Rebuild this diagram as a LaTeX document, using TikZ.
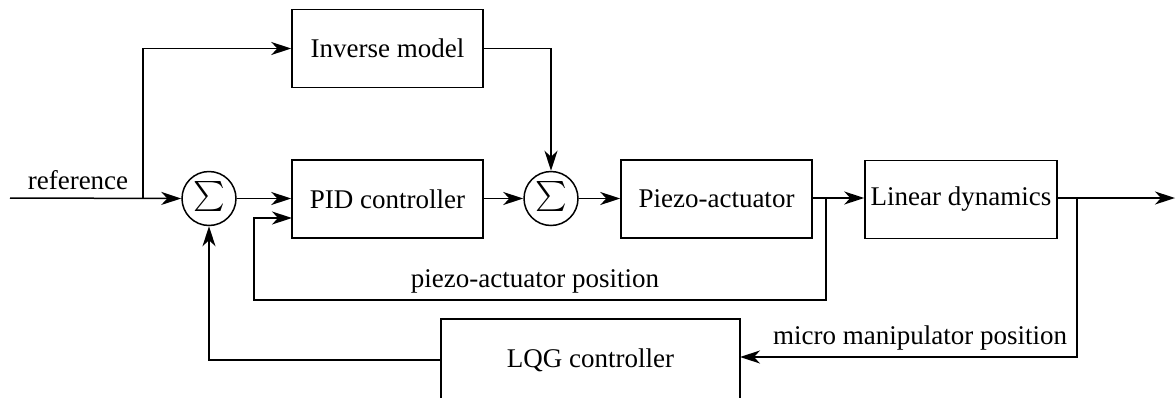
\documentclass[tikz,border=0pt]{standalone}
\usepackage{fontspec}
\usepackage{graphicx}
\setmainfont{Liberation Serif}
\usetikzlibrary{arrows.meta}
\tikzset{
  blk/.style={draw, line width=1.5pt, minimum width=191pt, minimum height=78pt, inner sep=0pt},
  sumnode/.style={draw, circle, line width=1.5pt, minimum size=54pt, inner sep=0pt},
  wire/.style={line width=1.5pt},
  sig/.style={wire, -{Stealth[length=20pt, width=13pt, inset=6pt]}},
  lbl/.style={inner sep=0pt},
}
\newcommand{\sumsign}{\scalebox{3}{$\sum$}}
\begin{document}
\begin{tikzpicture}[x=1pt, y=-1pt, font=\fontsize{27}{31}\selectfont]
\useasboundingbox (0,0) rectangle (1176,397);

% blocks
\node[blk] (inv) at (387.5,48.5) {Inverse model};
\node[blk] (pid) at (387.5,199) {PID controller};
\node[blk] (pz)  at (716.5,199) {Piezo-actuator};
\node[blk, minimum width=192pt] (lin) at (961,199.5) {Linear dynamics};
\node[blk, minimum width=299pt, minimum height=82pt] (lqg) at (590.5,360) {LQG controller};

% summing junctions
\node[sumnode] (s1) at (209,198.5) {};
\node[sumnode] (s2) at (551,198.5) {};
\node (s1sign) at (s1) {\sumsign};
\node (s2sign) at (s2) {\sumsign};

% free ends and branch points
\coordinate (in)  at (10,198);
\coordinate (out) at (1175,198);
\coordinate (b1)  at (143,198);
\coordinate (b2)  at (826,198);
\coordinate (b3)  at (1077,198);
\coordinate (fb)  at (254,300);
\coordinate (pidin) at (292,218);
\coordinate (lqgin) at (740,357);
\coordinate (lqgout) at (441,360);

% forward path
\draw[sig] (in) -- (s1.west);
\draw[sig] (b1) |- (inv.west);
\draw[sig] (s1.east) -- (s1.east -| pid.west);
\draw[sig] (pid.east |- s2) -- (s2.west);
\draw[sig] (inv.east) -| (s2.north);
\draw[sig] (s2.east) -- (s2.east -| pz.west);
\draw[sig] (pz.east |- b2) -- (b2 -| lin.west);
\draw[sig] (lin.east |- out) -- (out);

% inner loop: piezo-actuator position
\draw[sig] (b2) |- (fb) |- (pidin);

% outer loop: micro manipulator position
\draw[sig] (b3) |- (lqgin);
\draw[sig] (lqgout) -| (s1.south);

% signal labels
\node[lbl] (lref) at (78,180) {reference};
\node[lbl] (lpz)  at (535,281) {piezo-actuator position};
\node[lbl] (lmm)  at (920,338) {micro manipulator position};
\end{tikzpicture}
\end{document}
